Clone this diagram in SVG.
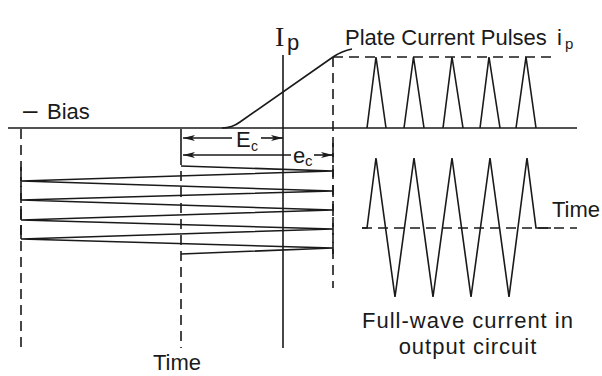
<svg xmlns="http://www.w3.org/2000/svg" width="602" height="376" viewBox="0 0 602 376">
<style>
  .ln{fill:none;stroke:#1a1a1a;stroke-width:1.6;stroke-linejoin:miter;stroke-linecap:butt}
  .ds{fill:none;stroke:#1a1a1a;stroke-width:1.6;stroke-dasharray:10 6}
  .tx{font-family:"Liberation Sans",Arial,sans-serif;font-size:22px;fill:#1a1a1a}
  .sf{font-family:"Liberation Serif","Times New Roman",serif;fill:#1a1a1a}
</style>
<defs>
  <marker id="ah" viewBox="0 0 12 6" refX="12" refY="3" markerWidth="12" markerHeight="6" markerUnits="userSpaceOnUse" orient="auto-start-reverse">
    <path d="M0,0 L12,3 L0,6 L3,3 Z" fill="#1a1a1a"/>
  </marker>
</defs>
<rect width="602" height="376" fill="#ffffff"/>

<g id="axes">
  <line class="ln" x1="8" y1="128" x2="577" y2="128"/>
  <line class="ln" x1="283" y1="55" x2="283" y2="348"/>
  <line class="ds" x1="21" y1="129" x2="21" y2="348"/>
  <line class="ds" x1="181" y1="155" x2="181" y2="348"/>
  <line class="ln" x1="181" y1="129" x2="181" y2="155"/>
  <line class="ds" x1="333" y1="57" x2="333" y2="288"/>
  <line class="ds" x1="333" y1="57" x2="555" y2="57"/>
  <line class="ds" x1="362" y1="228" x2="577" y2="228"/>
</g>

<g id="connectors">
  <path id="characteristic" class="ln" d="M222,128 Q232,128 240,122 L333,57 Q342,51 352,49"/>
  <path id="plate-pulses" class="ln" d="M367,128 L376,57 L386,128 M404,128 L413.5,57 L424,128 M443,128 L452,57 L463,128 M480,128 L489,57 L500,128 M516,128 L526,57 L536,128"/>
  <polyline id="full-wave" class="ln" points="362,228 367,228 376,158 395,297 414,158 433,297 452,158 471,297 490,158 509,297 527,158 536,228 551,228"/>
  <polyline id="grid-signal" class="ln" points="181,166 333,171 21,181 333,191 21,200 333,210 21,220 333,229 21,239 333,248 181,254"/>
  <path id="ticks" class="ln" d="M333,165 V177 M333,185 V197 M333,204 V216 M333,223 V235 M333,242 V254 M333,143 V157 M21,167 V181 M21,186 V200 M21,206 V220 M21,225 V239"/>
  <line id="ec-left" class="ln" x1="183" y1="138" x2="232" y2="138" marker-start="url(#ah)"/>
  <line id="ec-right" class="ln" x1="261" y1="138" x2="283" y2="138" marker-end="url(#ah)"/>
  <line id="eg-arrow" class="ln" x1="183" y1="155" x2="291" y2="155" marker-start="url(#ah)"/>
  <line id="eg-arrow-r" class="ln" x1="314" y1="155" x2="333" y2="155" marker-end="url(#ah)"/>
</g>

<g id="label-bias"><text class="tx" x="23" y="119"><tspan font-size="26">–</tspan><tspan x="47">Bias</tspan></text></g>
<g id="label-ip"><text class="sf" x="275" y="46" font-size="28">I<tspan class="tx" x="287" y="50" font-size="17">p</tspan></text></g>
<g id="label-plate"><text class="tx" x="345" y="45">Plate Current Pulses <tspan x="557">i</tspan><tspan x="565" y="49" font-size="15">p</tspan></text></g>
<g id="label-Ec"><text class="tx" x="236" y="147" font-size="17">E<tspan x="251" y="151" font-size="14">c</tspan></text></g>
<g id="label-ec"><text class="tx" x="293" y="163" font-size="20">e<tspan x="305" y="166" font-size="15">c</tspan></text></g>
<g id="label-time-right"><text class="tx" x="552" y="217">Time</text></g>
<g id="label-fullwave">
  <text class="tx" x="468" y="328" text-anchor="middle" letter-spacing="1">Full-wave current in</text>
  <text class="tx" x="468" y="354" text-anchor="middle" letter-spacing="1">output circuit</text>
</g>
<g id="label-time-bottom"><text class="tx" x="153" y="370">Time</text></g>
</svg>
